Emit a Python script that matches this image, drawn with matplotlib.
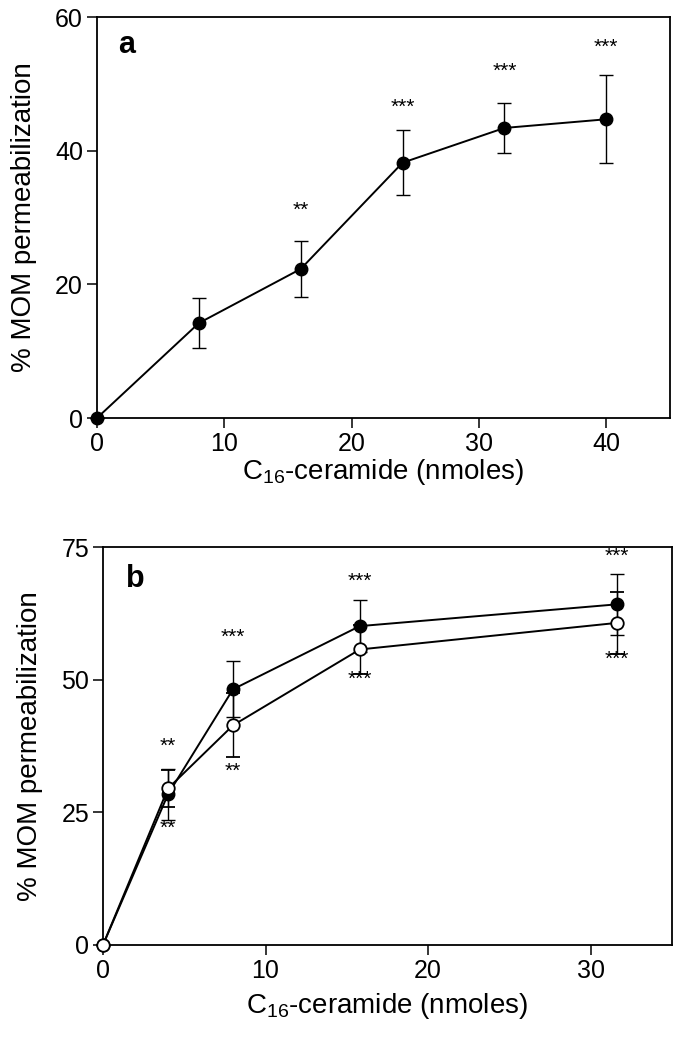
import matplotlib
matplotlib.use('Agg')
import matplotlib.pyplot as plt

plt.rcParams['font.family'] = ['Liberation Sans', 'DejaVu Sans']
plt.rcParams['mathtext.fontset'] = 'custom'
plt.rcParams['mathtext.rm'] = 'Liberation Sans'
plt.rcParams['mathtext.it'] = 'Liberation Sans'

# panel a
a_x = [0, 8, 16, 24, 32, 40]
a_y = [0, 14.2, 22.3, 38.2, 43.4, 44.7]
a_err = [0, 3.8, 4.2, 4.9, 3.7, 6.6]
a_stars = ['', '', '**', '***', '***', '***']
a_star_y = [0, 0, 31.0, 46.5, 51.8, 55.4]

# panel b
b_x = [0, 4, 8, 15.8, 31.6]
b_filled = [0, 28.4, 48.2, 60.1, 64.2]
b_filled_err = [0, 4.8, 5.3, 4.9, 5.7]
b_open = [0, 29.5, 41.4, 55.7, 60.7]
b_open_err = [0, 3.5, 6.0, 4.6, 5.8]
b_filled_stars = ['', '**', '***', '***', '***']
b_filled_star_y = [0, 37.5, 58.0, 68.5, 73.3]
b_open_stars = ['', '**', '**', '***', '***']
b_open_star_y = [0, 22.0, 32.8, 50.0, 53.9]

xlabel = r'C$_{16}$-ceramide (nmoles)'
ylabel = '% MOM permeabilization'


def style_axes(ax, xpad):
	for s in ax.spines.values():
		s.set_linewidth(1.3)
	ax.tick_params(direction='out', length=7, width=1.1, labelsize=18, pad=3)
	ax.set_xlabel(xlabel, fontsize=20, labelpad=xpad)
	ax.set_ylabel(ylabel, fontsize=20, labelpad=13)


def main():
	fig = plt.figure(figsize=(6.81, 10.5), dpi=100)

	ax1 = fig.add_axes([0.1424, 0.6019, 0.8414, 0.3819])
	ax1.errorbar(a_x, a_y, yerr=a_err, color='black', lw=1.4, elinewidth=1.0,
		capsize=5, capthick=1.0, marker='o', ms=9, mfc='black', mec='black', clip_on=False, zorder=3)
	for x, y, s in zip(a_x, a_star_y, a_stars):
		if s:
			ax1.text(x, y, s, ha='center', va='center', fontsize=15)
	ax1.set_xlim(0, 45)
	ax1.set_ylim(0, 60)
	ax1.set_xticks([0, 10, 20, 30, 40])
	ax1.set_yticks([0, 20, 40, 60])
	ax1.text(0.037, 0.93, 'a', transform=ax1.transAxes, fontsize=22, fontweight='bold', va='center')
	style_axes(ax1, 1)

	ax2 = fig.add_axes([0.1512, 0.1, 0.8355, 0.379])
	ax2.errorbar(b_x, b_filled, yerr=b_filled_err, color='black', lw=1.4, elinewidth=1.0,
		capsize=5, capthick=1.0, marker='o', ms=9, mfc='black', mec='black', clip_on=False, zorder=3)
	ax2.errorbar(b_x, b_open, yerr=b_open_err, color='black', lw=1.4, elinewidth=1.0,
		capsize=5, capthick=1.0, marker='o', ms=9, mfc='white', mec='black', mew=1.3, clip_on=False, zorder=4)
	for x, y, s in zip(b_x, b_filled_star_y, b_filled_stars):
		if s:
			ax2.text(x, y, s, ha='center', va='center', fontsize=15)
	for x, y, s in zip(b_x, b_open_star_y, b_open_stars):
		if s:
			ax2.text(x, y, s, ha='center', va='center', fontsize=15)
	ax2.set_xlim(0, 35)
	ax2.set_ylim(0, 75)
	ax2.set_xticks([0, 10, 20, 30])
	ax2.set_yticks([0, 25, 50, 75])
	ax2.text(0.04, 0.92, 'b', transform=ax2.transAxes, fontsize=22, fontweight='bold', va='center')
	style_axes(ax2, 6)

	fig.savefig('out.png', dpi=100)


if __name__ == '__main__':
	main()
